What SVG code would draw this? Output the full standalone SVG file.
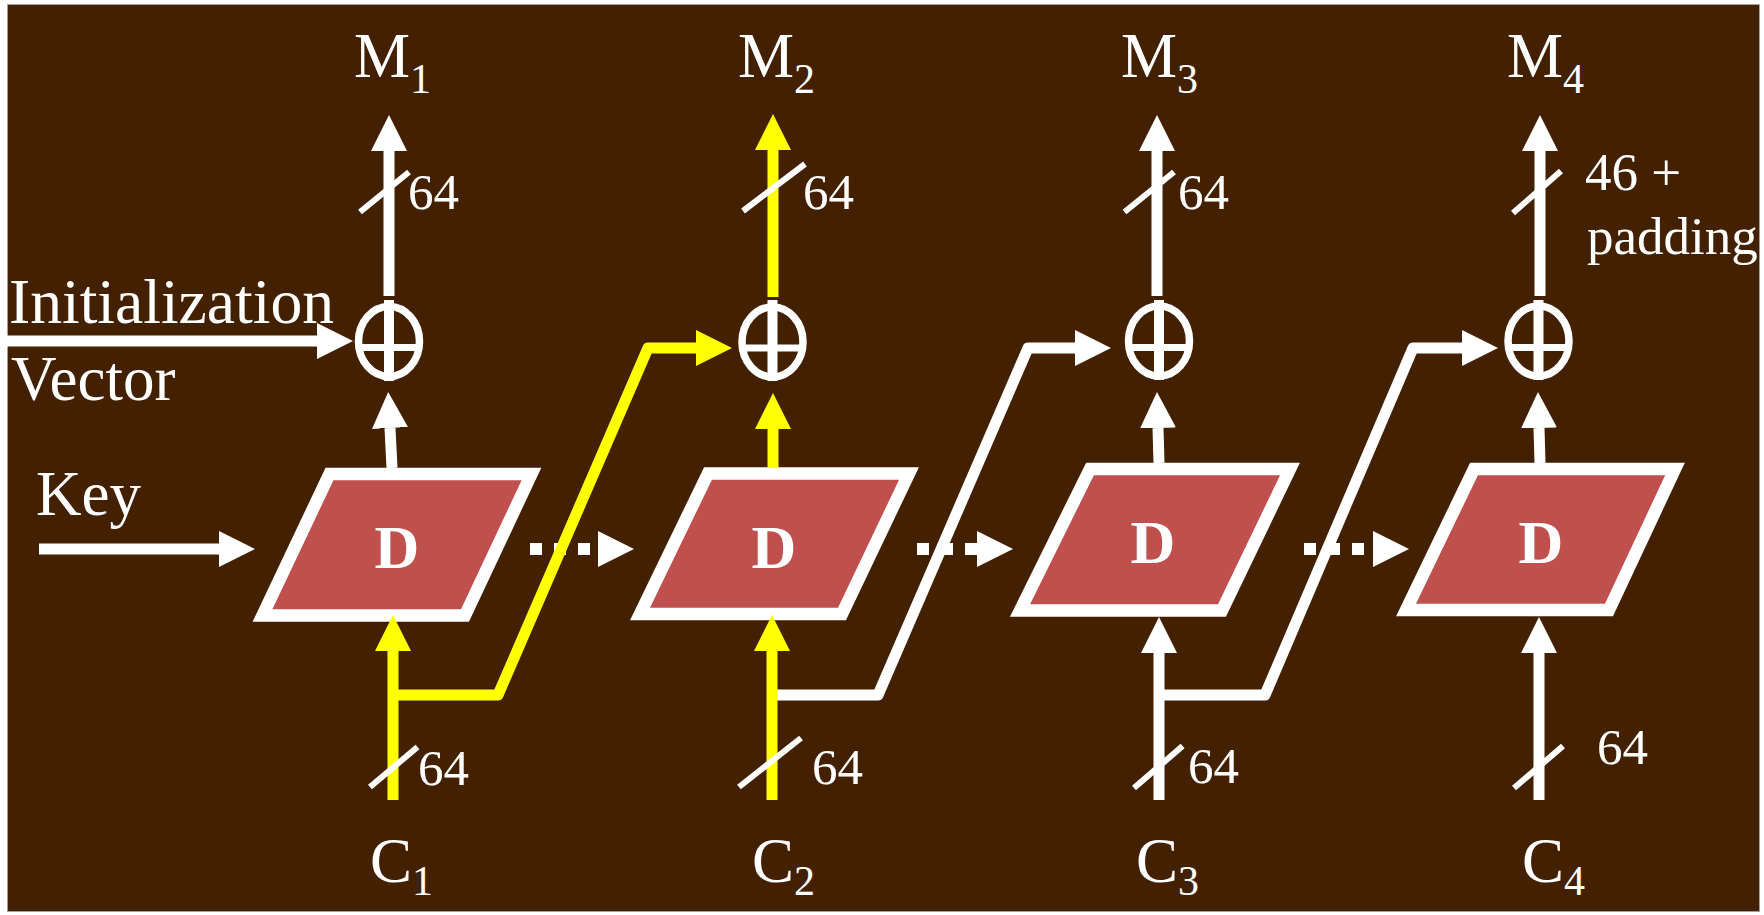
<svg xmlns="http://www.w3.org/2000/svg" width="1764" height="915" viewBox="0 0 1764 915">
<defs>
<style>
.t{font-family:"Liberation Serif","Times New Roman",serif;fill:#fff}
.big{font-size:63px}
.sub{font-size:42px}
.lbl{font-size:51px}
.lbl2{font-size:53px}
.d{font-size:62px;font-weight:bold;text-anchor:middle}
.box{fill:#C0504D;stroke:#fff;stroke-width:12.5;stroke-linejoin:miter}
.xr{fill:none;stroke:#fff;stroke-width:7.5}
.xv{stroke:#fff;stroke-width:10}
.xh{stroke:#fff;stroke-width:7}
.w{fill:none;stroke:#fff;stroke-width:11}
.y{fill:none;stroke:#FFFF00;stroke-width:11}
.wa{marker-end:url(#aw)}
.ya{marker-end:url(#ay)}
.br{stroke-linejoin:round}
.dot{fill:none;stroke:#fff;stroke-width:12;stroke-dasharray:12 12}
.sl{stroke:#fff;stroke-width:6}
</style>
<marker id="aw" markerUnits="userSpaceOnUse" markerWidth="36" markerHeight="36" refX="0" refY="18" orient="auto" viewBox="0 0 36 36"><path d="M0,0L36,18L0,36z" fill="#fff"/></marker>
<marker id="ay" markerUnits="userSpaceOnUse" markerWidth="36" markerHeight="36" refX="0" refY="18" orient="auto" viewBox="0 0 36 36"><path d="M0,0L36,18L0,36z" fill="#FFFF00"/></marker>
</defs>
<rect x="0" y="0" width="1764" height="915" fill="#fff"/>
<rect x="7.5" y="4.5" width="1752" height="907" fill="#432100" stroke="#a0a0a0" stroke-width="1"/>

<g id="box1"><path class="box" d="M329.5,474L531.5,474L465,615.5L262.5,615.5Z"/><text class="t d" x="397" y="568">D</text></g>
<g id="box2"><path class="box" d="M708,473.5L909,473.5L842,614L640,614Z"/><text class="t d" x="774" y="568">D</text></g>
<g id="box3"><path class="box" d="M1090,469L1290,469L1222,610.5L1020,610.5Z"/><text class="t d" x="1153" y="563">D</text></g>
<g id="box4"><path class="box" d="M1474,469L1675,469L1609,610L1406,610Z"/><text class="t d" x="1541" y="563">D</text></g>

<g id="xor1"><ellipse class="xr" cx="389" cy="341.5" rx="30.5" ry="35"/><line class="xv" x1="389" y1="300" x2="389" y2="381"/><line class="xh" x1="358" y1="347.5" x2="420" y2="347.5"/></g>
<g id="xor2"><ellipse class="xr" cx="772.5" cy="342" rx="30.5" ry="35"/><line class="xv" x1="772.5" y1="300" x2="772.5" y2="381"/><line class="xh" x1="741.5" y1="348" x2="803.5" y2="348"/></g>
<g id="xor3"><ellipse class="xr" cx="1159" cy="341" rx="30.5" ry="35"/><line class="xv" x1="1159" y1="300" x2="1159" y2="380"/><line class="xh" x1="1128" y1="347.5" x2="1190" y2="347.5"/></g>
<g id="xor4"><ellipse class="xr" cx="1538.5" cy="341" rx="30.5" ry="35"/><line class="xv" x1="1538.5" y1="300" x2="1538.5" y2="380"/><line class="xh" x1="1507.5" y1="347.5" x2="1569.5" y2="347.5"/></g>

<g id="labels">
<text class="t big" x="354" y="77">M<tspan class="sub" dy="16">1</tspan></text>
<text class="t big" x="738" y="77">M<tspan class="sub" dy="16">2</tspan></text>
<text class="t big" x="1121" y="77">M<tspan class="sub" dy="16">3</tspan></text>
<text class="t big" x="1507" y="77">M<tspan class="sub" dy="16">4</tspan></text>
<text class="t big" x="370" y="882">C<tspan class="sub" dy="13">1</tspan></text>
<text class="t big" x="752" y="882">C<tspan class="sub" dy="13">2</tspan></text>
<text class="t big" x="1136" y="882">C<tspan class="sub" dy="13">3</tspan></text>
<text class="t big" x="1522" y="882">C<tspan class="sub" dy="13">4</tspan></text>
<text class="t big" x="9" y="323" textLength="325" lengthAdjust="spacingAndGlyphs">Initialization</text>
<text class="t big" x="11" y="400">Vector</text>
<text class="t big" x="36" y="515">Key</text>
<text class="t lbl" x="408" y="209">64</text>
<text class="t lbl" x="803" y="209">64</text>
<text class="t lbl" x="1178" y="209">64</text>
<text class="t lbl2" x="1585" y="190">46 +</text>
<text class="t lbl2" x="1587" y="254">padding</text>
<text class="t lbl" x="418" y="785">64</text>
<text class="t lbl" x="812" y="784">64</text>
<text class="t lbl" x="1188" y="783">64</text>
<text class="t lbl" x="1597" y="764">64</text>
</g>

<g id="connectors">
<path class="w wa" d="M0,341H317"/>
<path class="w wa" d="M39,549H219"/>
<path class="w wa" d="M389,296V151"/>
<path class="y ya" d="M773,297V150"/>
<path class="w wa" d="M1157,296V151"/>
<path class="w wa" d="M1540,296V151"/>
<path class="w wa" d="M392,468L390,428"/>
<path class="y ya" d="M773,468V429"/>
<path class="w wa" d="M1159,463L1158,428"/>
<path class="w wa" d="M1540,463L1539,428"/>
<path class="dot wa" d="M530,549H598"/>
<path class="dot wa" d="M917,549H977"/>
<path class="dot wa" d="M1304,549H1373"/>
<path class="y ya br" d="M393,695H498L648,348H696"/>
<path class="w wa br" d="M772,695H878L1028,348H1075"/>
<path class="w wa br" d="M1159,695H1265L1413,348H1462"/>
<path class="y ya" d="M393,800V651"/>
<path class="y ya" d="M772,800V651"/>
<path class="w wa" d="M1159,800V653"/>
<path class="w wa" d="M1539,800V653"/>
<line class="sl" x1="360" y1="212" x2="409" y2="172"/>
<line class="sl" x1="743" y1="211" x2="805" y2="164"/>
<line class="sl" x1="1124.5" y1="212" x2="1174" y2="172"/>
<line class="sl" x1="1513" y1="213" x2="1561" y2="171"/>
<line class="sl" x1="370" y1="787" x2="417.5" y2="747"/>
<line class="sl" x1="739" y1="787" x2="801" y2="738"/>
<line class="sl" x1="1134" y1="788" x2="1182.6" y2="746"/>
<line class="sl" x1="1514" y1="788" x2="1563" y2="746"/>
</g>
</svg>
